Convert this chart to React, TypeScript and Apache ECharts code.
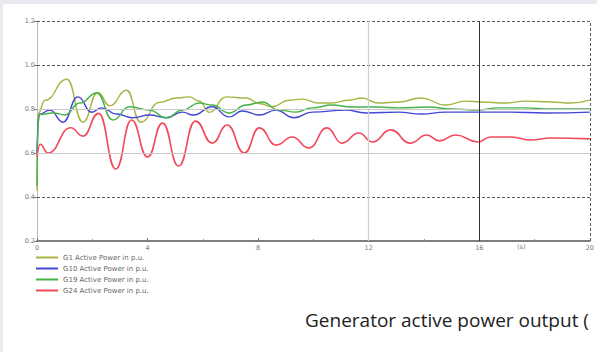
import React, { useEffect, useRef } from "react";
import * as echarts from "echarts";

// Time stamps (s) and active power (p.u.) of each generator
const timeG1 = [0, 0.04, 0.29, 1.08, 1.66, 2.2, 2.63, 3.24, 3.75, 4.43, 5.05, 5.51, 5.87, 6.23, 6.85, 7.57, 8.04, 8.5, 9.12, 9.59, 10.2, 10.67, 11.28, 11.75, 12.36, 13.08, 13.9, 14.77, 15.5, 16.07, 16.94, 17.66, 18.6, 19.3, 20];
const powerG1 = [0.43, 0.78, 0.84, 0.935, 0.74, 0.875, 0.815, 0.885, 0.74, 0.83, 0.85, 0.855, 0.835, 0.785, 0.855, 0.85, 0.825, 0.81, 0.84, 0.845, 0.827, 0.827, 0.84, 0.85, 0.827, 0.832, 0.85, 0.818, 0.836, 0.832, 0.827, 0.836, 0.832, 0.827, 0.84];

const timeG10 = [0, 0.07, 0.47, 0.94, 1.48, 1.98, 2.34, 2.88, 3.46, 4.07, 4.68, 5.26, 5.66, 6.34, 6.95, 7.42, 8.04, 8.65, 9.3, 9.95, 11.17, 11.9, 13.08, 13.9, 14.77, 17.15, 18.38, 20];
const powerG10 = [0.6, 0.775, 0.795, 0.74, 0.855, 0.785, 0.805, 0.777, 0.76, 0.773, 0.76, 0.786, 0.773, 0.81, 0.764, 0.791, 0.773, 0.795, 0.76, 0.786, 0.795, 0.782, 0.786, 0.777, 0.786, 0.786, 0.782, 0.786];

const timeG19 = [0, 0.04, 0.1, 0.58, 1.0, 1.55, 2.16, 2.74, 3.35, 4.07, 4.68, 5.26, 5.87, 6.34, 6.95, 7.57, 8.14, 8.76, 9.37, 9.95, 10.67, 11.39, 12.36, 13.08, 14.16, 15.0, 15.96, 16.68, 17.66, 18.6, 20];
const powerG19 = [0.45, 0.74, 0.775, 0.782, 0.773, 0.827, 0.873, 0.75, 0.81, 0.795, 0.76, 0.795, 0.827, 0.818, 0.782, 0.818, 0.832, 0.795, 0.786, 0.805, 0.818, 0.809, 0.809, 0.805, 0.809, 0.8, 0.795, 0.805, 0.805, 0.8, 0.8];

const timeG24 = [0, 0.11, 0.4, 1.22, 1.66, 2.23, 2.85, 3.42, 4.0, 4.54, 5.12, 5.73, 6.34, 6.88, 7.5, 8.04, 8.65, 9.23, 9.84, 10.49, 11.03, 11.64, 12.14, 12.79, 13.51, 14.09, 14.56, 15.14, 15.96, 16.4, 17.15, 17.87, 18.6, 20];
const powerG24 = [0.58, 0.64, 0.6, 0.715, 0.677, 0.78, 0.527, 0.75, 0.582, 0.736, 0.541, 0.745, 0.645, 0.727, 0.6, 0.714, 0.636, 0.673, 0.623, 0.714, 0.645, 0.691, 0.65, 0.705, 0.645, 0.682, 0.655, 0.682, 0.65, 0.673, 0.673, 0.659, 0.668, 0.664];

const seriesNames = [
  "G1 Active Power in p.u.",
  "G10 Active Power in p.u.",
  "G19 Active Power in p.u.",
  "G24 Active Power in p.u.",
];
const seriesColors = ["#a8b444", "#4446d6", "#46b348", "#f24a5c"];

// Reference lines of the plot frame
const dashedLevels = [1.2, 1.0, 0.4];
const lightLevels = [0.8, 0.6];
const caption = "Generator active power output (";

const zip = (t: number[], v: number[]) => t.map((x, i) => [x, v[i]]);

export default function App() {
  const ref = useRef<HTMLDivElement>(null);

  useEffect(() => {
    if (!ref.current) return;
    const chart = echarts.init(ref.current, null, { renderer: "svg" });
    const dash = { color: "#5a5a5a", width: 1, type: [3, 2] as number[] };
    const light = { color: "#c8c8c8", width: 1, type: "solid" as const };
    const small = "DejaVu Sans, Verdana, sans-serif";

    const frameLines = [
      ...dashedLevels.map((y) => ({ yAxis: y, lineStyle: dash })),
      ...lightLevels.map((y) => ({ yAxis: y, lineStyle: light })),
      { xAxis: 12, lineStyle: { color: "#cfcfcf", width: 1.2, type: "solid" as const } },
      { xAxis: 16, lineStyle: { color: "#333", width: 1, type: "solid" as const } },
      { xAxis: 20, lineStyle: dash },
    ];

    const data = [zip(timeG1, powerG1), zip(timeG10, powerG10), zip(timeG19, powerG19), zip(timeG24, powerG24)];

    chart.setOption({
      animation: false,
      textStyle: { fontFamily: small },
      grid: { left: 37, right: 5, top: 21, bottom: 111, containLabel: false },
      legend: {
        data: seriesNames,
        orient: "vertical",
        left: 36,
        top: 254,
        itemWidth: 22,
        itemHeight: 2,
        itemGap: 4,
        icon: "rect",
        textStyle: { fontSize: 7, color: "#666", fontFamily: small },
        padding: 0,
      },
      xAxis: {
        type: "value",
        min: 0,
        max: 20,
        interval: 4,
        axisLine: { onZero: false, lineStyle: { color: "#555", width: 1.5 } },
        axisTick: { show: true, inside: true, length: 3, lineStyle: { color: "#777" } },
        minorTick: { show: true, splitNumber: 2, length: 2, lineStyle: { color: "#999" } },
        axisLabel: { fontSize: 6.5, color: "#777", margin: 3, fontFamily: small },
        splitLine: { show: false },
      },
      yAxis: {
        type: "value",
        min: 0.2,
        max: 1.2,
        interval: 0.2,
        axisLine: { show: true, lineStyle: { color: "#bbb", width: 1 } },
        axisTick: { show: true, length: 3, lineStyle: { color: "#777" } },
        axisLabel: { fontSize: 6.5, color: "#777", margin: 2, fontFamily: small, formatter: (v: number) => v.toFixed(1) },
        splitLine: { show: false },
      },
      graphic: [
        { type: "text", left: 517, top: 243, style: { text: "(s)", fontSize: 6.5, fill: "#777", fontFamily: small } },
        {
          type: "text",
          left: 305,
          top: 310,
          style: { text: caption, fontSize: 19, fill: "#222", fontFamily: "Open Sans, sans-serif" },
        },
      ],
      series: [
        {
          type: "line",
          name: "frame",
          data: [],
          z: 1,
          silent: true,
          markLine: { silent: true, symbol: "none", label: { show: false }, data: frameLines },
        },
        ...seriesNames.map((name, i) => ({
          type: "line",
          name,
          data: data[i],
          z: 2,
          smooth: 0.5,
          smoothMonotone: "x",
          showSymbol: false,
          symbol: "none",
          color: seriesColors[i],
          lineStyle: { color: seriesColors[i], width: i === 3 ? 1.6 : 1.4 },
        })),
      ],
    });
    return () => chart.dispose();
  }, []);

  return (
    <div style={{ position: "fixed", left: 0, top: 0, width: 597, height: 352, background: "#e9eaef" }}>
      <div style={{ position: "absolute", left: 3, top: 4, width: 594, height: 348, background: "#ffffff" }} />
      <div ref={ref} style={{ position: "absolute", left: 0, top: 0, width: 597, height: 352 }} />
    </div>
  );
}
